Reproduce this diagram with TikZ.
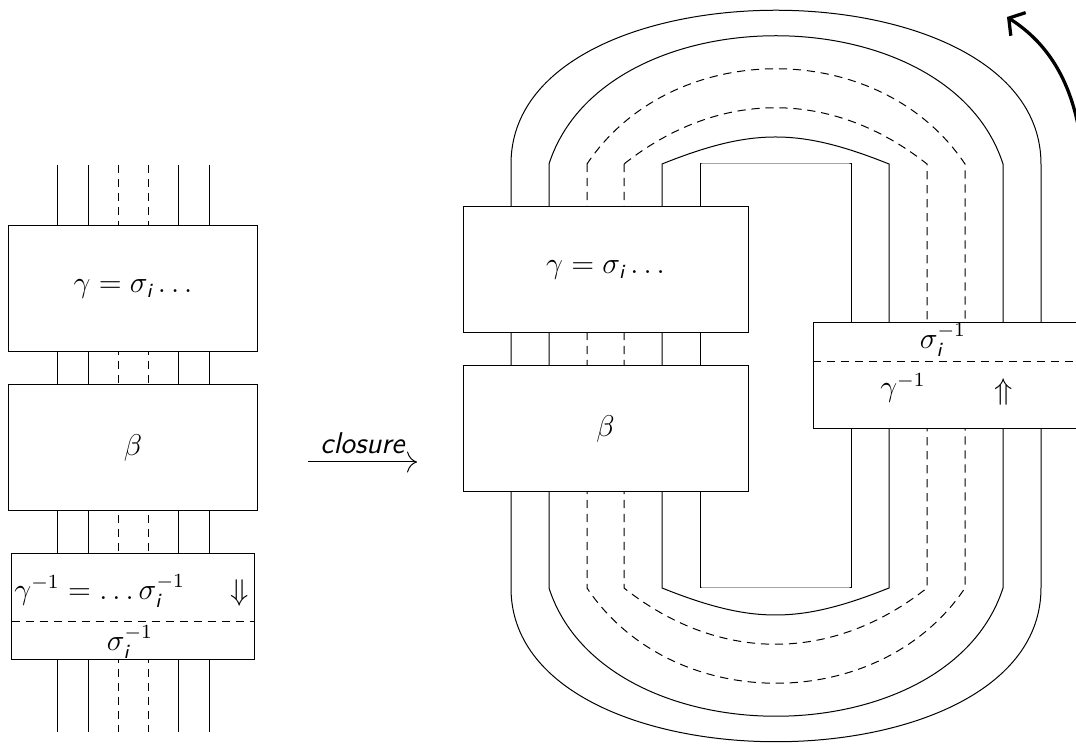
\documentclass[tikz,border=0pt]{standalone}
\usepackage{amsmath,amssymb}
\usepackage{sansmath}
\usetikzlibrary{arrows.meta,calc}

% one unit of the picture
\newlength\px
\setlength\px{0.4pt}
% slanted sans index
\newcommand{\ix}{\text{\itshape i}}

\begin{document}
\begin{tikzpicture}[
    x=0.4pt, y=-0.4pt,
    font=\sffamily\sansmath\large,
    strand/.style={thin},
    ghost/.style={thin, dash pattern=on 3.3pt off 2.3pt},
    box/.style={draw, thin, fill=white, inner sep=0pt, minimum height=126\px},
    lowbox/.style={box, minimum height=106\px},
    turn/.style={line width=1.3pt, line cap=round, -{Straight Barb[length=4.5pt,width=11pt]}}
]
\useasboundingbox (0,0) rectangle (1076,744);

% Open braid: strands first, boxes cover them
\foreach \x in {57,88,178,209}
    \draw[strand] (\x,165) -- (\x,732);
\foreach \x in {118,148}
    \draw[ghost] (\x,165) -- (\x,732);

\node[box, minimum width=248\px] (gamL) at (133,289) {$\gamma=\sigma_\ix\ldots$};
\node[box, minimum width=248\px] (betaL) at (133,448) {$\beta$};
\node[lowbox, minimum width=242\px] (invL) at (133,607) {};
\draw[ghost] ($(invL.west)+(0,15)$) -- ($(invL.east)+(0,15)$);
\node[anchor=west, inner sep=0pt] (invLtxt) at (14,591) {$\gamma^{-1}=\ldots\sigma_\ix^{-1}$};
\node (downL) at (240,593) {$\Downarrow$};
\node (sigL) at (130,642) {$\sigma_\ix^{-1}$};

% closure arrow
\coordinate (clA) at (308,462);
\coordinate (clB) at (417,462);
\draw[-{To[length=4pt]}] (clA) -- node[above, inner sep=3pt] {\itshape closure} (clB);

% Closed braid: each strand runs round to its partner
\foreach \xl/\xr/\h/\d/\sty in {700/851/0/0/strand, 662/889/36/90/strand,
        624/927/75/95/ghost, 587/965/127/85/ghost,
        549/1003/171/55/strand, 511/1041/205/0/strand}
    \draw[\sty] (\xl,164) -- (\xl,588)
        .. controls (\xl+\d,588+\h) and (\xr-\d,588+\h) .. (\xr,588)
        -- (\xr,164)
        .. controls (\xr-\d,164-\h) and (\xl+\d,164-\h) .. cycle;

\node[box, minimum width=285\px] (gamR) at (605.5,270) {$\gamma=\sigma_\ix\ldots$};
\node[box, minimum width=285\px] (betaR) at (605.5,429) {$\beta$};
\node[lowbox, minimum width=277\px] (invR) at (951.5,376) {};
\draw[ghost] ($(invR.west)+(0,-14)$) -- ($(invR.east)+(0,-14)$);
\node (sigR) at (943,340) {$\sigma_\ix^{-1}$};
\node (gamInvR) at (903,388) {$\gamma^{-1}$};
\node (upR) at (1004,392) {$\Uparrow$};

% sense of the turn
\coordinate (rotA) at (1082,150);
\coordinate (rotB) at (1007,17);
\draw[turn] (rotA) .. controls (1074,80) and (1046,42) .. (rotB);

\end{tikzpicture}
\end{document}
